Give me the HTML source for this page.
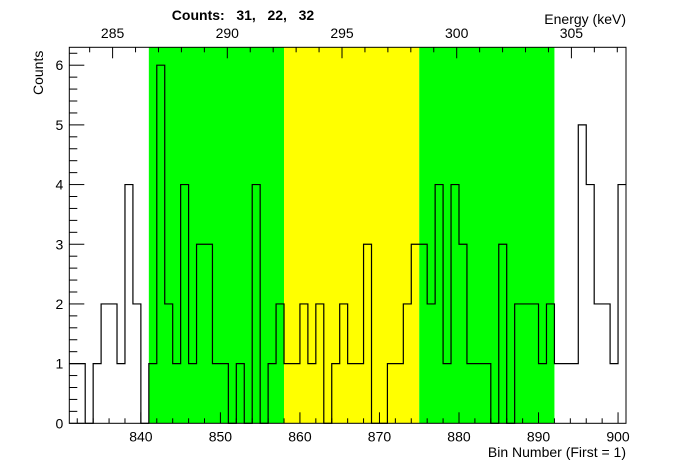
<!DOCTYPE html>
<html><head><meta charset="utf-8"><style>
body{margin:0;background:#fff}
svg{display:block;font-family:"Liberation Sans",Arial,sans-serif}
</style></head><body>
<svg id="chart" width="696" height="472" xmlns="http://www.w3.org/2000/svg">
<g id="bands"></g><g id="hist"></g><g id="axes"></g>
<text x="243" y="20" font-size="14" font-weight="bold" text-anchor="middle" xml:space="preserve">Counts:   31,   22,   32</text>
<text x="626" y="24" font-size="14" text-anchor="end">Energy (keV)</text>
<text x="626" y="457" font-size="14" text-anchor="end">Bin Number (First = 1)</text>
<text transform="translate(43,95) rotate(-90)" font-size="14">Counts</text>
</svg>
<script>
const binStart = 831;
const counts = [1,1,0,1,2,2,1,4,2,0, 1,6,2,1,4,1,3,3,1,1, 0,1,0,4,0,1,2,1,1,2, 1,2,0,1,2,1,1,3,0,0, 1,1,2,3,3,2,4,1,4,3, 1,1,1,0,3,0,2,2,2,1, 2,1,1,1,5,4,2,2,1,4];
const bandEdges = [841,858,875,892];
const bandColors = ["#00ff00","#ffff00","#00ff00"];
const xTicks = [840,850,860,870,880,890,900];
const yTicks = [0,1,2,3,4,5,6];
const eTicks = [285,290,295,300,305];
const L=69.3,R=626,T=47.3,B=423.3, xmin=831, xmax=901, ymax=6.3;
const eAt285=112.6, ePerKeV=22.94;
const X=v=>L+(v-xmin)*(R-L)/(xmax-xmin);
const Y=v=>B-v*(B-T)/ymax;
const EX=e=>eAt285+(e-285)*ePerKeV;
const NS="http://www.w3.org/2000/svg";
function mk(tag,parent,attrs){const e=document.createElementNS(NS,tag);for(const k in attrs)e.setAttribute(k,attrs[k]);parent.appendChild(e);return e;}
const bands=document.getElementById('bands');
for(let i=0;i<bandColors.length;i++){
 const r=mk('rect',bands,{x:X(bandEdges[i]),y:T,width:X(bandEdges[i+1])-X(bandEdges[i]),height:B-T,fill:bandColors[i]});
 
 
}
let d=`M${X(binStart)},${Y(counts[0])}`;
counts.forEach((c,i)=>{const x0=X(binStart+i),x1=X(binStart+i+1);
 if(i>0)d+=` L${x0},${Y(c)}`; d+=` L${x1},${Y(c)}`;});
const p=mk('path',document.getElementById('hist'),{d:d,fill:'none',stroke:'#000','stroke-width':1.2});


const ax=document.getElementById('axes');
const fr=mk('rect',ax,{x:L,y:T,width:R-L,height:B-T,fill:'none',stroke:'#000','stroke-width':1});


for(let v=832;v<=900;v+=2){const maj=v%10===0;mk('line',ax,{x1:X(v),x2:X(v),y1:B,y2:B-(maj?11:5),stroke:'#000'});}
xTicks.forEach(v=>{const t=mk('text',ax,{x:X(v),y:B+18,'font-size':14,'text-anchor':'middle'});t.textContent=v;
 
 });
for(let k=0;k<=31;k++){const v=k*0.2;if(v>ymax)break;const maj=k%5===0;mk('line',ax,{x1:L,x2:L+(maj?15:8),y1:Y(v),y2:Y(v),stroke:'#000'});}
yTicks.forEach(v=>{const t=mk('text',ax,{x:L-6,y:Y(v)+5,'font-size':14,'text-anchor':'end'});t.textContent=v;
 
 });
for(let e=283;e<=310;e++){const x=EX(e);if(x<L||x>R)continue;const maj=e%5===0;mk('line',ax,{x1:x,x2:x,y1:T,y2:T+(maj?11:5),stroke:'#000'});}
eTicks.forEach(v=>{const t=mk('text',ax,{x:EX(v),y:38,'font-size':14,'text-anchor':'middle'});t.textContent=v;
 
 });
</script>
</body></html>
